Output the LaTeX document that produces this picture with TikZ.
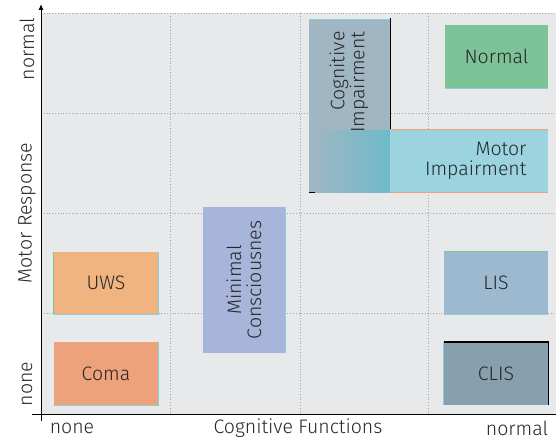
\documentclass[tikz,border=0pt]{standalone}
\usepackage{fontspec}
\setmainfont{Fira Sans}[UprightFont=* Light]
\usetikzlibrary{arrows.meta}
\definecolor{plotbg}{HTML}{E8E9EB}
\definecolor{comacol}{HTML}{EDA27C}
\definecolor{uwscol}{HTML}{F0B481}
\definecolor{mcscol}{HTML}{A6B5D9}
\definecolor{cogcol}{HTML}{A1B6C3}
\definecolor{cogteal}{HTML}{6EBAC9}
\definecolor{motcol}{HTML}{9BD4DF}
\definecolor{normcol}{HTML}{7EC397}
\definecolor{liscol}{HTML}{9DB9CF}
\definecolor{cliscol}{HTML}{87A0AE}
\definecolor{edgeblue}{HTML}{8CCFDC}
\definecolor{edgeorange}{HTML}{F0A07A}
\tikzstyle{state} = [rectangle, inner sep=0pt, text=black!85,
    font=\fontsize{19.5}{20}\selectfont]
\tikzstyle{grid} = [gray!70, dotted, line width=0.8pt]
\tikzstyle{lbl} = [text=black!85, font=\fontsize{19.5}{20}\selectfont]

\begin{document}
\begin{tikzpicture}[x=1pt,y=-1pt]
  \useasboundingbox (0,0) rectangle (556,441);
  \fill[plotbg] (41,13) rectangle (556,414);

  % grid
  \foreach \x in {170,300,428}
    \draw[grid] (\x,13) -- (\x,414);
  \foreach \y in {13,113,213,313}
    \draw[grid] (41,\y) -- (556,\y);

  % axes
  \coordinate (o)  at (41,421);
  \coordinate (yt) at (41,4);
  \coordinate (xl) at (32,414);
  \coordinate (xr) at (556,414);
  \draw[line width=1pt,-{Latex[length=6pt,width=5pt]}] (o) -- (yt);
  \draw[line width=1pt] (xl) -- (xr);

  % states
  \node[state,fill=comacol,minimum width=104pt,minimum height=63pt]
    (coma) at (106,373.5) {Coma};
  \draw[edgeblue,line width=1pt] (coma.south west) -- (coma.south east) -- (coma.north east);
  \node[state,fill=uwscol,minimum width=104pt,minimum height=62pt]
    (uws) at (106,283) {UWS};
  \draw[normcol,line width=1pt] (uws.south west) -- (uws.north west);
  \draw[edgeblue,line width=1pt] (uws.south west) -- (uws.south east) -- (uws.north east);
  \node[state,fill=mcscol,minimum width=82pt,minimum height=146pt]
    (mcs) at (244,280) {};
  \draw[edgeblue,line width=1pt] (mcs.south east) -- (mcs.north east);
  \node[lbl,rotate=90,align=center] (mcstxt) at (mcs.center) {Minimal\\Consciousnes};

  \node[state,fill=cogcol,minimum width=81pt,minimum height=110pt]
    (cog) at (349.5,75) {};
  \draw[edgeblue,line width=1pt] (cog.north west) -- (cog.north east);
  \draw[black,line width=1.4pt] ([yshift=2pt]cog.north east) -- (cog.south east);
  \node[lbl,rotate=90,align=right,anchor=east] (cogtxt) at (349,28) {Cognitive\\Impairment};
  \node[state,minimum width=81pt,minimum height=62pt,left color=cogcol,right color=cogteal]
    (cogmot) at (349.5,161) {};
  \draw[black,line width=1.4pt] (cogmot.south west) -- ++(6,0);

  \node[state,fill=motcol,minimum width=158pt,minimum height=62pt]
    (mot) at (469,161) {};
  \draw[edgeorange,line width=1.2pt] (mot.north west) -- (mot.north east);
  \draw[edgeorange,line width=1.2pt] (mot.south west) -- (mot.south east);
  \node[lbl,align=right,anchor=east] (mottxt) at (530,161) {Motor\\Impairment};

  \node[state,fill=normcol,minimum width=103pt,minimum height=63pt]
    (normal) at (496.5,56.5) {Normal};
  \draw[edgeblue,line width=1pt] (normal.south west) -- (normal.south east);
  \node[state,fill=liscol,minimum width=104pt,minimum height=62pt]
    (lis) at (496,283) {LIS};
  \draw[normcol,line width=1pt] (lis.north west) -- (lis.north east);
  \draw[edgeblue,line width=1pt] (lis.south west) -- (lis.south east);
  \node[state,fill=cliscol,minimum width=104pt,minimum height=63pt]
    (clis) at (496,373.5) {CLIS};
  \draw[black,line width=1.4pt] (clis.north west) -- (clis.north east) -- (clis.south east);
  \draw[edgeblue,line width=1pt] (clis.south west) -- (clis.north west);

  % axis labels
  \node[lbl] (xnone) at (72,428) {none};
  \node[lbl] (xname) at (298,428) {Cognitive Functions};
  \node[lbl] (xnorm) at (517,428) {normal};
  \node[lbl,rotate=90] (ynone) at (27,384) {none};
  \node[lbl,rotate=90] (yname) at (27,213) {Motor Response};
  \node[lbl,rotate=90] (ynorm) at (27,49) {normal};
\end{tikzpicture}
\end{document}
